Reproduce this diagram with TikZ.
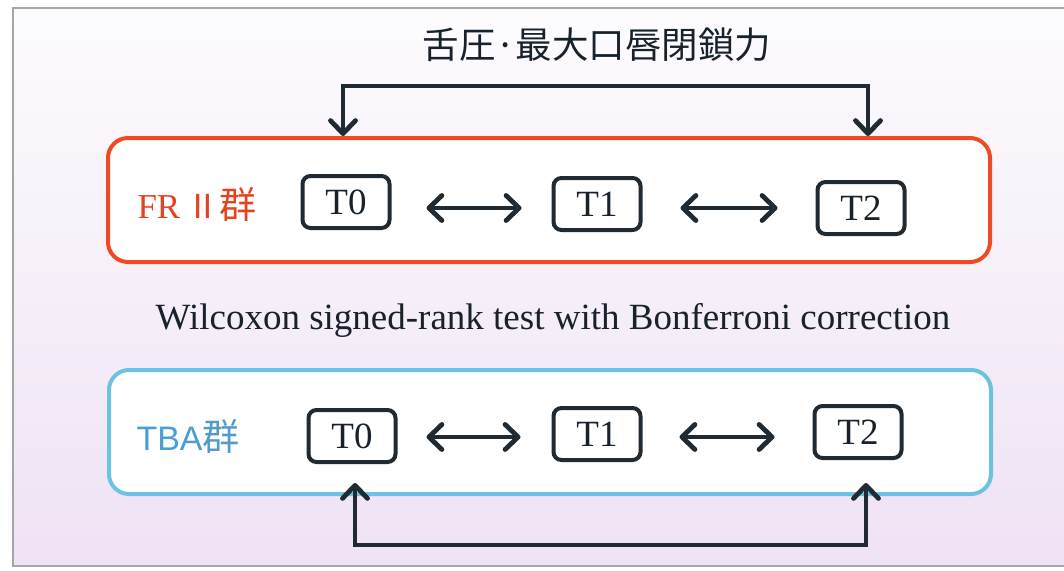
\documentclass[tikz,border=0pt]{standalone}
\usepackage{fontspec}
\setmainfont{Liberation Serif}
\newfontfamily\cjk{Noto Sans CJK JP}
\newfontfamily\arialish{Liberation Sans}
\usetikzlibrary{arrows.meta}
\definecolor{frred}{HTML}{EE4A24}
\definecolor{frtext}{HTML}{E5431F}
\definecolor{tbablue}{HTML}{6CC2E2}
\definecolor{tbatext}{HTML}{4A9ED6}
\definecolor{ink}{HTML}{1F2A33}
\definecolor{txt}{HTML}{18222C}
\definecolor{bgtop}{HTML}{FDFCFE}
\definecolor{bgbot}{HTML}{EFE2F4}
\tikzset{
  groupbox/.style={draw, line width=4pt, rounded corners=20pt, fill=white, minimum width=882pt, minimum height=124pt},
  tbox/.style={draw=ink, line width=4pt, rounded corners=8pt, fill=white, minimum width=87pt, minimum height=52pt, font=\fontsize{37}{39}\selectfont, text=txt, inner sep=0pt},
  mybarb/.tip={Straight Barb[length=13pt,width=25pt,line cap=round,line join=round]},
  conn/.style={draw=ink, line width=4.8pt, {mybarb}-{mybarb}},
  dbl/.style={draw=ink, line width=4.8pt, {mybarb}-{mybarb}}
}
\begin{document}
\begin{tikzpicture}[x=1pt,y=-1pt]
\useasboundingbox (0,0) rectangle (1064,570);
\fill[white] (0,0) rectangle (1064,570);
\shade[top color=bgtop, bottom color=bgbot, draw=gray!70, line width=1.5pt] (13,8) rectangle (1070,566);
% title
\node[font=\cjk\fontsize{36.5}{40}\selectfont, text=txt] (title) at (597,45) {舌圧·最大口唇閉鎖力};
% FR II group
\node[groupbox, draw=frred] (fr) at (549,200) {};
\node[anchor=west, text=frtext, font=\fontsize{35}{37}\selectfont] (frlab) at (134,204) {FR\,{\cjk\fontsize{33}{35}\selectfont Ⅱ}{\cjk\fontsize{37}{39}\selectfont 群}};
\node[tbox] (f0) at (346,202) {T0};
\node[tbox] (f1) at (597,204) {T1};
\node[tbox] (f2) at (861,208) {T2};
\coordinate (fy) at (0,208);
\draw[dbl] ([xshift=35pt]f0.east |- fy) -- ([xshift=-30pt]f1.west |- fy);
\draw[dbl] ([xshift=38pt]f1.east |- fy) -- ([xshift=-38pt]f2.west |- fy);
\coordinate (top) at (600,86);
\draw[conn] ([xshift=-3pt]f0.center |- fr.north) |- (top) -| ([xshift=7pt]f2.center |- fr.north);
% middle text
\node[font=\fontsize{37}{39}\selectfont, text=txt] (wil) at (553,320) {Wilcoxon signed-rank test with Bonferroni correction};
% TBA group
\node[groupbox, draw=tbablue] (tba) at (550,432) {};
\node[anchor=west, text=tbatext, font=\arialish\fontsize{34}{36}\selectfont] (tbalab) at (133,436) {TBA{\cjk\fontsize{37}{39}\selectfont\color{tbatext!85!gray}群}};
\node[tbox] (b0) at (352,436) {T0};
\node[tbox] (b1) at (597,434) {T1};
\node[tbox] (b2) at (858,432) {T2};
\coordinate (by) at (0,437);
\draw[dbl] ([xshift=29pt]b0.east |- by) -- ([xshift=-31pt]b1.west |- by);
\draw[dbl] ([xshift=37pt]b1.east |- by) -- ([xshift=-38pt]b2.west |- by);
\coordinate (bot) at (600,545);
\draw[conn] ([xshift=3pt,yshift=13pt]b0.center |- tba.south) |- (bot) -| ([xshift=8pt,yshift=13pt]b2.center |- tba.south);
\end{tikzpicture}
\end{document}
